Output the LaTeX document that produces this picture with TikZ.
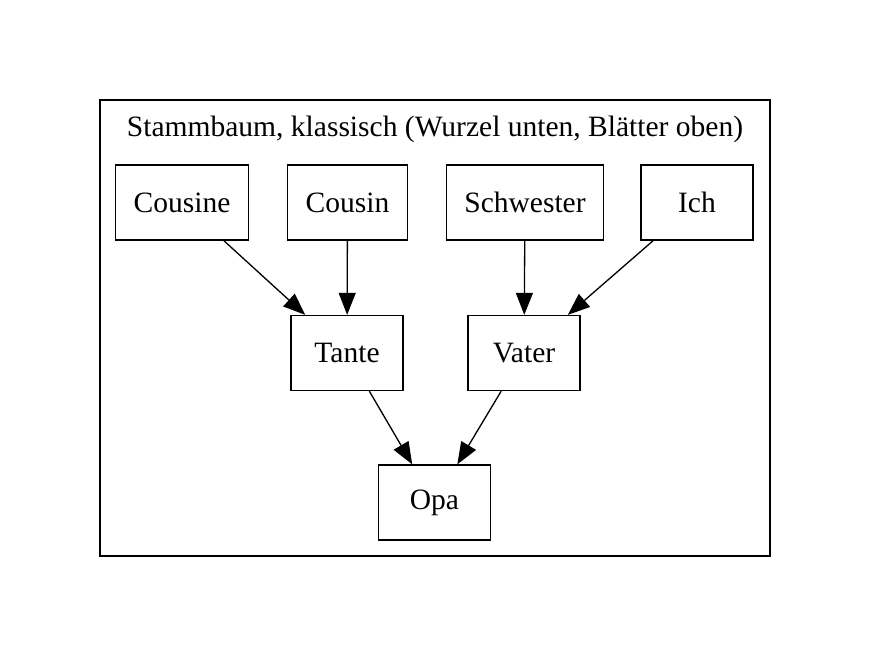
\documentclass[tikz,border=0pt]{standalone}
\usepackage{fontspec}
\setmainfont{Liberation Serif}
\usetikzlibrary{arrows.meta}
\begin{document}
\begin{tikzpicture}[
    box/.style={draw, line width=0.75pt, minimum width=2.24cm,
                minimum height=1.5cm, inner xsep=0.36cm,
                font=\fontsize{16.8}{20}\selectfont},
    arr/.style={-{Triangle[length=0.44cm, width=0.34cm]}, line width=0.75pt}
  ]
  \useasboundingbox (0,0) rectangle (17.42,-13.14);
  % Cluster
  \draw[line width=0.75pt] (2.0,-2.0) rectangle (15.4,-11.12);
  \node[font=\fontsize{16.8}{20}\selectfont] (title) at (8.7,-2.58)
    {Stammbaum, klassisch (Wurzel unten, Blätter oben)};

  % Leaves
  \node[box] (cousine) at (3.64,-4.05) {Cousine};
  \node[box] (cousin) at (6.95,-4.05) {Cousin};
  \node[box] (schwester) at (10.5,-4.05) {Schwester};
  \node[box] (ich) at (13.94,-4.05) {Ich};

  % Parents
  \node[box] (tante) at (6.94,-7.06) {Tante};
  \node[box] (vater) at (10.48,-7.06) {Vater};

  % Root
  \node[box] (opa) at (8.69,-10.05) {Opa};

  \draw[arr] (cousine) -- (tante);
  \draw[arr] (cousin) -- (tante);
  \draw[arr] (schwester) -- (vater);
  \draw[arr] (ich) -- (vater);
  \draw[arr] (tante) -- (opa);
  \draw[arr] (vater) -- (opa);
\end{tikzpicture}
\end{document}
